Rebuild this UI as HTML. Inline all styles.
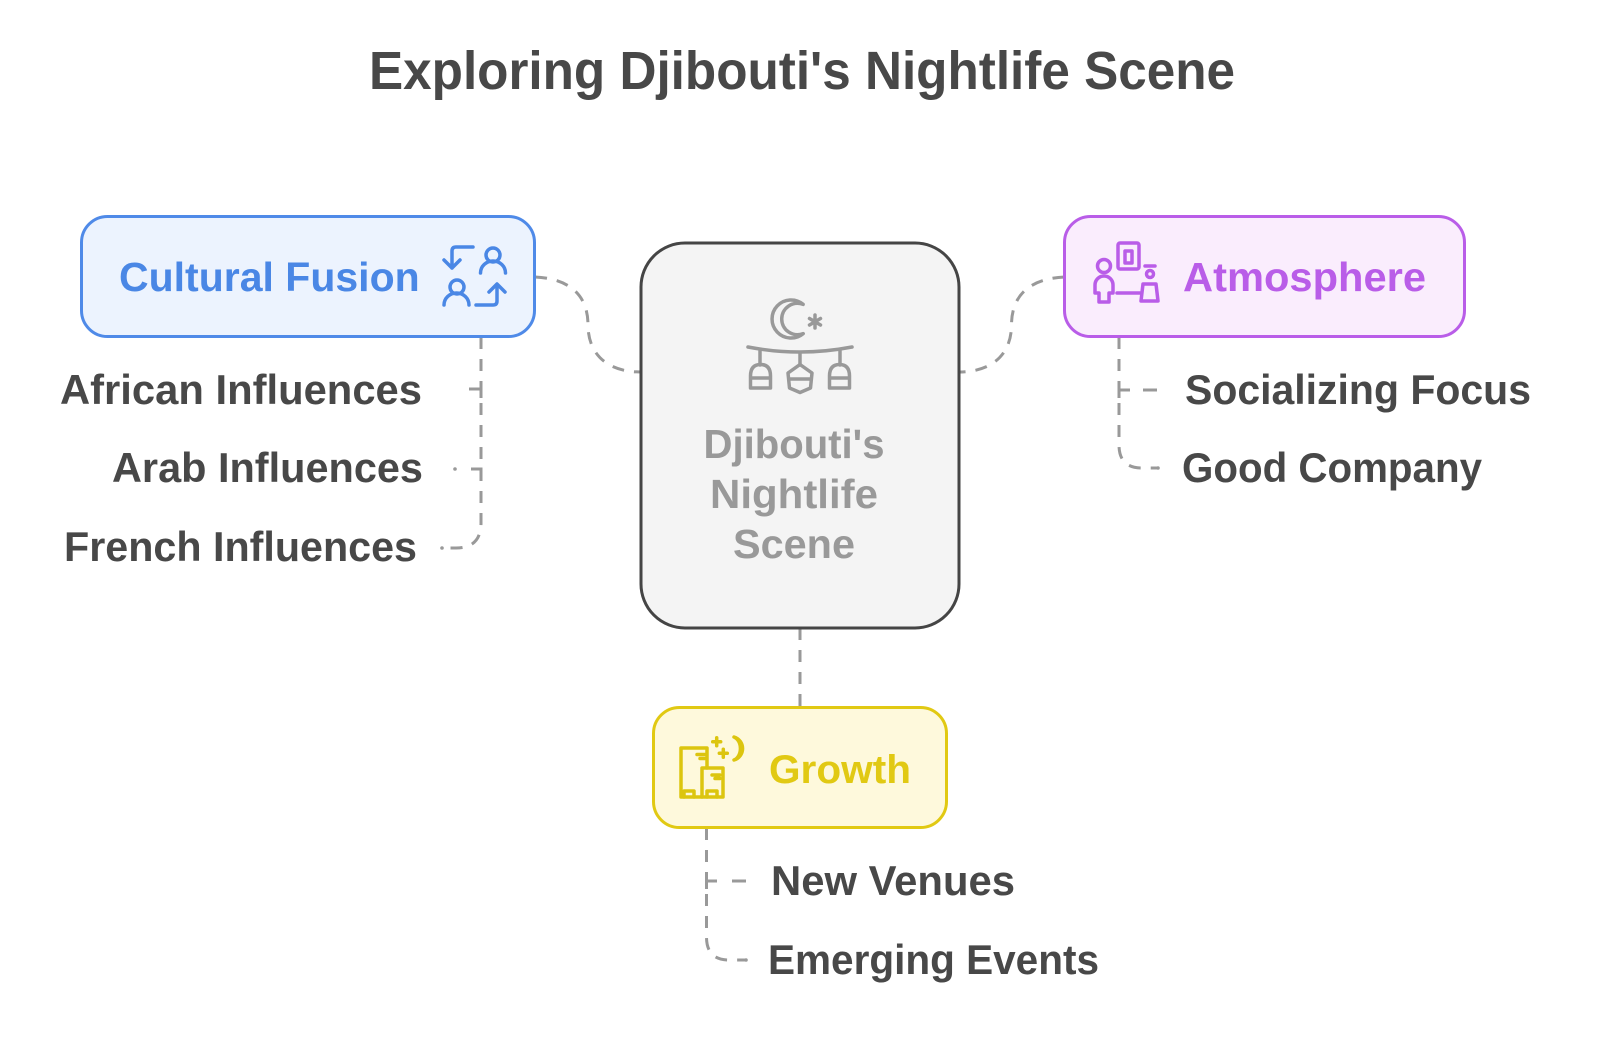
<!DOCTYPE html>
<html><head><meta charset="utf-8"><style>
html,body{margin:0;padding:0;background:#fff;}
svg{display:block;}
text{font-family:"Liberation Sans",Arial,sans-serif;font-weight:bold;}
</style></head><body>
<svg width="1600" height="1042" viewBox="0 0 1600 1042" xmlns="http://www.w3.org/2000/svg">
<rect width="1600" height="1042" fill="#fff"/>
<text x="369" y="89" font-size="54" fill="#484848" textLength="866" lengthAdjust="spacingAndGlyphs">Exploring Djibouti's Nightlife Scene</text>

<!-- connectors -->
<g fill="none" stroke="#999" stroke-width="3" stroke-dasharray="12 10">
<path d="M535,277 C575,279 588,300 588,325 C588,352 605,372 641,372"/>
<path d="M1064.5,277 C1024.5,279 1011.5,300 1011.5,325 C1011.5,352 994.5,372 958.5,372"/>
<path d="M800,628 V707"/>
<path d="M481,337 V523 Q481,548 456,548 H442"/>
<path d="M1119,337 V445 Q1119,468 1142,468 H1158"/>
<path d="M706.5,828 V937 Q706.5,960 729,960 H746"/>
</g>
<g fill="none" stroke="#999" stroke-width="3">
<polyline points="469,389 481,389 481,398"/>
<polyline points="471,469 481,469 481,478"/>
<polyline points="1130,390 1119,390 1119,398"/>
<path d="M1143,390 H1157"/>
<polyline points="717,881 706.5,881 706.5,889"/>
<path d="M732,881 H746"/>
</g>
<circle cx="455" cy="469" r="1.8" fill="#999"/>
<circle cx="442" cy="548" r="1.8" fill="#999"/>
<circle cx="1158" cy="468" r="1.8" fill="#999"/>
<circle cx="746" cy="960" r="1.8" fill="#999"/>

<!-- central box -->
<rect x="641" y="243" width="318" height="385" rx="44" fill="#f4f4f4" stroke="#454545" stroke-width="3"/>
<g fill="none" stroke="#999" stroke-width="3.5" stroke-linecap="round" stroke-linejoin="round">
<path d="M803.2,304.4 A19,19 0 1 0 803.2,333.6 A15.7,15.7 0 1 1 803.2,304.4 Z"/>
<path d="M815,315 V328 M809.5,318.5 L820.5,325 M809.5,325 L820.5,318.5"/>
<path d="M748,347 Q800,357 852,347"/>
<path d="M760,351 V365 M800,353 V365 M840,351 V365"/>
<path d="M750.5,388 V376 Q750.5,364.5 760.5,364.5 Q770.5,364.5 770.5,376 V388 Z M750.5,378 H770.5"/>
<path d="M800,364.5 L788,373 L789.5,388 L800,392.5 L810.5,388 L812,373 Z M789,379 H811"/>
<path d="M829.5,388 V376 Q829.5,364.5 839.5,364.5 Q849.5,364.5 849.5,376 V388 Z M829.5,378 H849.5"/>
</g>
<g font-size="41" fill="#999" text-anchor="middle">
<text x="794" y="458" textLength="181" lengthAdjust="spacingAndGlyphs">Djibouti's</text>
<text x="794" y="508" textLength="168" lengthAdjust="spacingAndGlyphs">Nightlife</text>
<text x="794" y="558" textLength="122" lengthAdjust="spacingAndGlyphs">Scene</text>
</g>

<!-- Cultural Fusion -->
<rect x="81.5" y="216.5" width="453" height="120" rx="26" fill="#ecf3fe" stroke="#4f8ae8" stroke-width="3"/>
<text x="119" y="291" font-size="41" fill="#4a87e5">Cultural Fusion</text>
<g fill="none" stroke="#4a87e5" stroke-width="3.5" stroke-linecap="round" stroke-linejoin="round">
<path d="M473,247 H456 Q452,247 452,251 V268 M444,260 L452,268 L460,260"/>
<circle cx="493" cy="255" r="7"/>
<path d="M480.5,273 A12.5,12 0 0 1 505.5,273"/>
<circle cx="457" cy="287" r="7"/>
<path d="M444,305 A12.5,12 0 0 1 469,305"/>
<path d="M476,305 H493 Q497,305 497,301 V285 M489,292 L497,284 L505,292"/>
</g>

<!-- Atmosphere -->
<rect x="1064.5" y="216.5" width="400" height="120" rx="26" fill="#faedfd" stroke="#b95de8" stroke-width="3"/>
<text x="1183" y="291" font-size="41" fill="#b95de8" textLength="243" lengthAdjust="spacingAndGlyphs">Atmosphere</text>
<g fill="none" stroke="#b95de8" stroke-width="3.5" stroke-linecap="round" stroke-linejoin="round">
<circle cx="1104" cy="266" r="6.5"/>
<path d="M1095,293 V285 A9,9 0 0 1 1113,285 V293 H1109 V302 H1099 V293 Z"/>
<path d="M1117,293 H1140"/>
<path d="M1141,301 L1143,284 H1156 L1158,301 Z"/>
<path d="M1145,266 H1155"/>
<circle cx="1150" cy="274" r="3.5"/>
<rect x="1118" y="243" width="21" height="26" rx="2"/>
<rect x="1125" y="251" width="7" height="12"/>
</g>

<!-- Growth -->
<rect x="653.5" y="707.5" width="293" height="120" rx="26" fill="#fef9dc" stroke="#e1c913" stroke-width="3"/>
<text x="769" y="783" font-size="40" fill="#e1c913" textLength="142" lengthAdjust="spacingAndGlyphs">Growth</text>
<g fill="none" stroke="#dcc50f" stroke-width="3.5" stroke-linecap="round" stroke-linejoin="round">
<path d="M702,797 H681 V748 H707 V768"/>
<path d="M702,797 V768 H723 V797 Z"/>
<path d="M697,754.5 H705 M700,758.5 H705 M712,775 H720 M715,778.5 H720"/>
<path d="M684,797 V791 H694 V797 M707,797 V791 H717 V797"/>
<path d="M712.7,741.7 H720.7 M716.7,737.7 V745.7 M719.3,753.3 H727.3 M723.3,749.3 V757.3"/>
<path d="M734,737 A12,12 0 0 1 734,760 A9,12 0 0 0 734,737 Z"/>
</g>

<!-- labels -->
<g font-size="42" fill="#484848">
<text x="60" y="404" textLength="362" lengthAdjust="spacingAndGlyphs">African Influences</text>
<text x="112" y="482" textLength="311" lengthAdjust="spacingAndGlyphs">Arab Influences</text>
<text x="64" y="561" textLength="353" lengthAdjust="spacingAndGlyphs">French Influences</text>
<text x="1185" y="404" textLength="346" lengthAdjust="spacingAndGlyphs">Socializing Focus</text>
<text x="1182" y="482" textLength="300" lengthAdjust="spacingAndGlyphs">Good Company</text>
<text x="771" y="895" textLength="244" lengthAdjust="spacingAndGlyphs">New Venues</text>
<text x="768" y="974" textLength="331" lengthAdjust="spacingAndGlyphs">Emerging Events</text>
</g>
</svg>
</body></html>
